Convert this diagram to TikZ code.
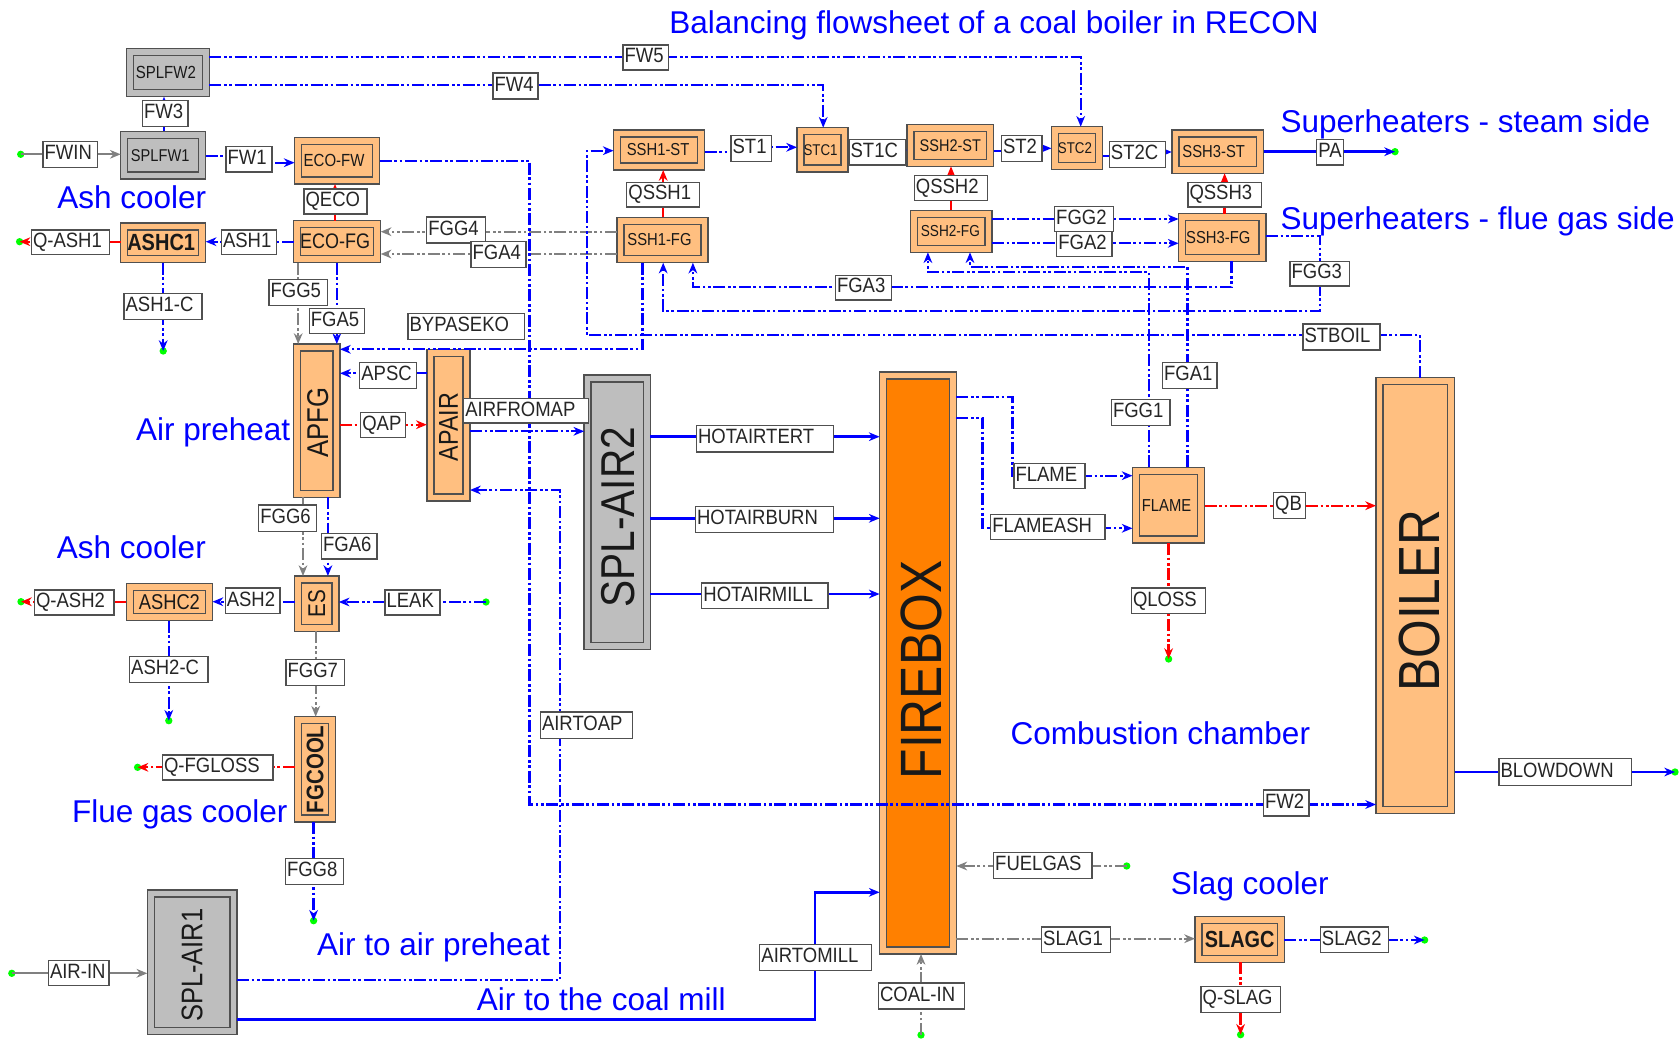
\documentclass[tikz,border=0pt]{standalone}
\usepackage{fontspec}
\usepackage{graphicx}
\setmainfont{Liberation Sans}
\usetikzlibrary{arrows.meta}
\definecolor{peach}{HTML}{FFBF80}
\definecolor{burn}{HTML}{FF8000}
\definecolor{splgray}{HTML}{BEBEBE}
\definecolor{edge}{HTML}{505050}
\definecolor{flowgray}{HTML}{808080}
\newcommand{\fpx}[1]{\pgfmathsetlengthmacro\fz{#1*0.75}\fontsize{\fz}{\fz}\selectfont}
\tikzset{
  >={Stealth[length=8pt,width=6.5pt,inset=2.5pt]},
  outerbox/.style={draw=edge,line width=1.1pt,inner sep=0pt,outer sep=0pt},
  innerbox/.style={draw=edge,line width=1.1pt,inner sep=0pt,outer sep=0pt},
  labelbox/.style={draw=edge,line width=1pt,fill=white,inner sep=0pt,outer sep=0pt,inner xsep=1.2pt,
    font=\fpx{18.5},align=left,text height=9.9pt,text depth=2pt,text=black!85},
  dot/.style={circle,fill=green,draw=none,minimum size=5.5pt,inner sep=0pt,outer sep=0pt},
  title/.style={text=blue,font=\fpx{31.5},anchor=base west,inner sep=0pt},
  flow/.style={line width=1.7pt,->},
  dd/.style={dash pattern=on 9pt off 2pt on 2pt off 2pt on 2pt off 2pt},
  bd/.style={flow,blue,dd},
  bs/.style={flow,blue,line width=1.9pt},
  gd/.style={flow,flowgray,dd},
  gs/.style={flow,flowgray,line width=1.7pt},
  rd/.style={flow,red,dd},
  rs/.style={flow,red},
}
\def\tdx{0}\def\tdy{0}
\newcommand{\unit}[9][0]{%
  \pgfmathsetmacro\cxx{(#3+#5)/2}\pgfmathsetmacro\cyy{(#4+#6)/2}%
  \pgfmathsetmacro\ww{(#5-#3)*0.75}\pgfmathsetmacro\hh{(#6-#4)*0.75}%
  \pgfmathsetmacro\wi{(#5-#3-14)*0.75}\pgfmathsetmacro\hi{(#6-#4-14)*0.75}%
  \pgfmathsetmacro\txx{\cxx+\tdx}\pgfmathsetmacro\tyy{\cyy+\tdy}%
  \node[outerbox,fill=#7,minimum width=\ww pt,minimum height=\hh pt] (#2) at (\cxx,\cyy) {};
  \node[innerbox,fill=#8,minimum width=\wi pt,minimum height=\hi pt] (#2-i) at (\cxx,\cyy) {};
  \node[rotate=#1,inner sep=0pt,text=black!90] (#2-t) at (\txx,\tyy) {\scalebox{1}[1.17]{#9}};
  \def\tdx{0}\def\tdy{0}%
}
\newcommand{\lab}[6]{%
  \pgfmathsetmacro\cxx{(#2+#4)/2}\pgfmathsetmacro\cyy{(#3+#5)/2}%
  \pgfmathsetmacro\hh{(#5-#3)*0.75}%
  \pgfmathsetmacro\wi{(#4-#2)*0.75-2.4}%
  \node[labelbox,text width=\wi pt,minimum height=\hh pt] (#1) at (\cxx,\cyy) {\mbox{\scalebox{1}[1.12]{#6}}};
}
\begin{document}
\begin{tikzpicture}[x=0.75pt,y=-0.75pt]
\useasboundingbox (0,0) rectangle (1680,1038);
% ---------- units
\def\tdx{-2}\unit{SPLFW2}{126.4}{48.7}{209.3}{96.7}{splgray}{splgray}{\fpx{15}SPLFW2}
\def\tdx{-3}\unit{SPLFW1}{120.7}{131.3}{205.7}{179}{splgray}{splgray}{\fpx{14.6}SPLFW1}
\def\tdx{-3}\unit{ECOFW}{294.6}{137.3}{379.6}{184}{peach}{peach}{\fpx{15}ECO-FW}
\def\tdx{-2}\unit{ECOFG}{293.6}{220.7}{380.7}{262.7}{peach}{peach}{\fpx{18}ECO-FG}
\def\tdx{-2}\unit{ASHC1}{120.7}{223}{205.7}{262.7}{peach}{peach}{\fpx{20}\bfseries ASHC1}
\def\tdx{1}\def\tdy{2}\unit[90]{APFG}{293.4}{344}{340}{497.3}{peach}{peach}{\fpx{25.7}APFG}
\def\tdy{2}\unit[90]{APAIR}{426.8}{349.3}{470}{501}{peach}{peach}{\fpx{23.3}APAIR}
\def\tdx{1}\def\tdy{5}\unit[90]{SPLAIR2}{584.2}{375}{650.3}{649.7}{splgray}{splgray}{\fpx{40.6}SPL-AIR2}
\unit[90]{ES}{294.6}{576}{338.8}{631.3}{peach}{peach}{\fpx{20.7}ES}
\unit{ASHC2}{126.3}{583.3}{212.5}{620.7}{peach}{peach}{\fpx{18.3}ASHC2}
\unit[90]{FGCOOL}{294.6}{716.7}{335.4}{822}{peach}{peach}{\fpx{20.5}\bfseries FGCOOL}
\def\tdy{3}\unit[90]{SPLAIR1}{147.3}{890}{237}{1034.3}{splgray}{splgray}{\fpx{25.5}SPL-AIR1}
\def\tdx{3}\def\tdy{7}\unit[90]{FIREBOX}{879.6}{372}{956.4}{954}{peach}{burn}{\fpx{49.8}FIREBOX}
\def\tdx{-2}\unit{FLAME}{1132.5}{467.3}{1204.6}{543}{peach}{peach}{\fpx{14.8}FLAME}
\def\tdx{4}\def\tdy{5}\unit[90]{BOILER}{1376}{377.7}{1454.6}{813.3}{peach}{peach}{\fpx{49.6}BOILER}
\def\tdx{-1}\unit{SSH1ST}{613.6}{130}{704.6}{170}{peach}{peach}{\fpx{14.8}SSH1-ST}
\def\tdx{-3}\unit{SSH1FG}{617}{217.3}{707.9}{262.7}{peach}{peach}{\fpx{14.8}SSH1-FG}
\def\tdx{-2}\unit{STC1}{797}{127.7}{848.2}{172}{peach}{peach}{\fpx{13.3}STC1}
\unit{SSH2ST}{907}{124.3}{993.6}{166.3}{peach}{peach}{\fpx{14.5}SSH2-ST}
\def\tdx{-2}\unit{STC2}{1051.4}{126.7}{1102.5}{169.7}{peach}{peach}{\fpx{13.3}STC2}
\def\tdx{-4}\unit{SSH3ST}{1171.8}{130}{1263.6}{173.3}{peach}{peach}{\fpx{14.8}SSH3-ST}
\def\tdx{-1}\unit{SSH2FG}{910.7}{210.3}{992}{252.3}{peach}{peach}{\fpx{13.6}SSH2-FG}
\def\tdx{-4}\unit{SSH3FG}{1178.6}{213.7}{1266}{261.3}{peach}{peach}{\fpx{14.8}SSH3-FG}
\unit{SLAGC}{1195}{916.7}{1284.4}{962.3}{peach}{peach}{\fpx{19.9}\bfseries SLAGC}
% ---------- free ends
\node[dot] (dFWIN) at (20.7,154.3) {};
\node[dot] (dQASH1) at (19.6,241.7) {};
\node[dot] (dASH1C) at (163.2,351) {};
\node[dot] (dQASH2) at (21,601.7) {};
\node[dot] (dLEAK) at (486,602) {};
\node[dot] (dASH2C) at (168.8,720.7) {};
\node[dot] (dQFG) at (137.6,767.3) {};
\node[dot] (dFGG8) at (313.6,920.7) {};
\node[dot] (dAIR) at (11.8,973.3) {};
\node[dot] (dPA) at (1395,151.7) {};
\node[dot] (dQLOSS) at (1168.6,659) {};
\node[dot] (dBLOW) at (1675,772) {};
\node[dot] (dFUEL) at (1126.7,866) {};
\node[dot] (dSLAG2) at (1424.6,940) {};
\node[dot] (dQSLAG) at (1240.6,1034.7) {};
\node[dot] (dCOAL) at (921,1035) {};
% ---------- connectors
\draw[gs] (dFWIN.center) -- (SPLFW1.west |- 0,154.3);
\draw[bd] (SPLFW1.north -| 164,0) -- (SPLFW2.south -| 164,0);
\draw[bd] (SPLFW1.east |- 0,156) -- (249,156) -- (249,162.7) -- (ECOFW.west |- 0,162.7);
\draw[bd] (SPLFW2.east |- 0,85.3) -- (823.2,85.3) -- (STC1.north -| 823.2,0);
\draw[bd] (SPLFW2.east |- 0,57.3) -- (1080.7,57.3) -- (STC2.north -| 1080.7,0);
\draw[rs] (ECOFG.north -| 335,0) -- (ECOFW.south -| 335,0);
\draw[gd] (SSH1FG.west |- 0,231.7) -- (ECOFG.east |- 0,231.7);
\draw[gd] (SSH1FG.west |- 0,254) -- (ECOFG.east |- 0,254);
\draw[bd] (ECOFG.west |- 0,241.7) -- (ASHC1.east |- 0,241.7);
\draw[rd] (ASHC1.west |- 0,241.7) -- (dQASH1.center);
\draw[bd] (ASHC1.south -| 163.2,0) -- (dASH1C.center);
\draw[gd] (ECOFG.south -| 298.2,0) -- (APFG.north -| 298.2,0);
\draw[bd] (ECOFG.south -| 336.8,0) -- (APFG.north -| 336.8,0);
\draw[bd] (SSH1FG.south -| 642.5,0) -- (642.5,349.3) -- (APFG.east |- 0,349.3);
\draw[bd] (APAIR.west |- 0,373.3) -- (APFG.east |- 0,373.3);
\draw[rd] (APFG.east |- 0,424.7) -- (APAIR.west |- 0,424.7);
\draw[bd] (APAIR.east |- 0,431.3) -- (SPLAIR2.west |- 0,431.3);
\draw[bd] (SPLAIR1.east |- 0,980) -- (560.2,980) -- (560.2,490) -- (APAIR.east |- 0,490);
\draw[gd] (APFG.south -| 303,0) -- (ES.north -| 303,0);
\draw[bd] (APFG.south -| 327.9,0) -- (ES.north -| 327.9,0);
\draw[bd] (dLEAK.center) -- (ES.east |- 0,602);
\draw[bd] (ES.west |- 0,601.7) -- (ASHC2.east |- 0,601.7);
\draw[rd] (ASHC2.west |- 0,601.7) -- (dQASH2.center);
\draw[bd] (ASHC2.south -| 168.8,0) -- (dASH2C.center);
\draw[gd] (ES.south -| 315.7,0) -- (FGCOOL.north -| 315.7,0);
\draw[rd] (FGCOOL.west |- 0,767.3) -- (dQFG.center);
\draw[bd] (FGCOOL.south -| 313.6,0) -- (dFGG8.center);
\draw[gs] (dAIR.center) -- (SPLAIR1.west |- 0,973.3);
\draw[bs] (SPLAIR1.east |- 0,1019.3) -- (815,1019.3) -- (815,892.3) -- (FIREBOX.west |- 0,892.3);
\draw[bs] (SPLAIR2.east |- 0,436.7) -- (FIREBOX.west |- 0,436.7);
\draw[bs] (SPLAIR2.east |- 0,518.3) -- (FIREBOX.west |- 0,518.3);
\draw[bs] (SPLAIR2.east |- 0,594) -- (FIREBOX.west |- 0,594);
\draw[bd] (FIREBOX.east |- 0,396.7) -- (1012.5,396.7) -- (1012.5,475.7) -- (FLAME.west |- 0,475.7);
\draw[bd] (FIREBOX.east |- 0,417.7) -- (982.5,417.7) -- (982.5,528.3) -- (FLAME.west |- 0,528.3);
\draw[rd] (FLAME.east |- 0,505.7) -- (BOILER.west |- 0,505.7);
\draw[rd] (FLAME.south -| 1168.6,0) -- (dQLOSS.center);
\draw[bd] (ECOFW.east |- 0,160.7) -- (529.6,160.7) -- (529.6,804.5) -- (BOILER.west |- 0,804.5);
\draw[bs] (BOILER.east |- 0,772) -- (dBLOW.center);
\draw[gd] (dFUEL.center) -- (FIREBOX.east |- 0,866);
\draw[gd] (FIREBOX.east |- 0,938.7) -- (SLAGC.west |- 0,938.7);
\draw[gd] (dCOAL.center) -- (FIREBOX.south -| 921,0);
\draw[bd] (SLAGC.east |- 0,940) -- (dSLAG2.center);
\draw[rd] (SLAGC.south -| 1240.6,0) -- (dQSLAG.center);
\draw[bd] (BOILER.north -| 1420,0) -- (1420,335) -- (586.8,335) -- (586.8,150.7) -- (SSH1ST.west |- 0,150.7);
\draw[rs] (SSH1FG.north -| 663.2,0) -- (SSH1ST.south -| 663.2,0);
\draw[bd] (SSH1ST.east |- 0,152.3) -- (751,152.3) -- (751,147.3) -- (STC1.west |- 0,147.3);
\draw[bd] (STC1.east |- 0,150) -- (SSH2ST.west |- 0,150);
\draw[bd] (SSH2ST.east |- 0,150.7) -- (1022,150.7) -- (1022,148.3) -- (STC2.west |- 0,148.3);
\draw[bd] (STC2.east |- 0,156) -- (1137,156) -- (1137,152) -- (SSH3ST.west |- 0,152);
\draw[bs] (SSH3ST.east |- 0,151.7) -- (dPA.center);
\draw[rs] (SSH2FG.north -| 951,0) -- (SSH2ST.south -| 951,0);
\draw[rs] (SSH3FG.north -| 1224.6,0) -- (SSH3ST.south -| 1224.6,0);
\draw[bd] (SSH2FG.east |- 0,219) -- (SSH3FG.west |- 0,219);
\draw[bd] (SSH2FG.east |- 0,243.3) -- (SSH3FG.west |- 0,243.3);
\draw[bd] (SSH3FG.east |- 0,236.3) -- (1320,236.3) -- (1320,311) -- (663.2,311) -- (SSH1FG.south -| 663.2,0);
\draw[bd] (SSH3FG.south -| 1231.4,0) -- (1231.4,287.3) -- (692.9,287.3) -- (SSH1FG.south -| 692.9,0);
\draw[bd] (FLAME.north -| 1149.3,0) -- (1149.3,272.3) -- (927.9,272.3) -- (SSH2FG.south -| 927.9,0);
\draw[bd] (FLAME.north -| 1187.5,0) -- (1187.5,266.7) -- (970,266.7) -- (SSH2FG.south -| 970,0);
% ---------- stream labels
\lab{lFW5}{622.9}{45}{668.2}{70}{FW5}
\lab{lFW4}{493}{73}{538}{99}{FW4}
\lab{lFW3}{142.5}{100.7}{188}{126.7}{FW3}
\lab{lFWIN}{43}{141.7}{97.5}{167.3}{FWIN}
\lab{lFW1}{226}{146.3}{272}{172}{FW1}
\lab{lQECO}{304}{189}{367}{214}{QECO}
\lab{lFGG4}{426.8}{217}{485.4}{243}{FGG4}
\lab{lFGA4}{471}{241.3}{526}{267.3}{FGA4}
\lab{lQASH1}{31.4}{230}{109.3}{254.7}{Q-ASH1}
\lab{lASH1}{221.4}{230}{276.8}{254.7}{ASH1}
\lab{lASH1C}{124}{293.7}{202}{319.7}{ASH1-C}
\lab{lFGG5}{269}{279.7}{327.5}{305.7}{FGG5}
\lab{lFGA5}{309.3}{308.7}{364.6}{333.7}{FGA5}
\lab{lBYP}{408}{313.7}{524.6}{339.3}{BYPASEKO}
\lab{lAPSC}{359.8}{362.7}{416.7}{388.3}{APSC}
\lab{lQAP}{360.7}{412.3}{405.3}{437.3}{QAP}
\lab{lAFM}{463.8}{398.7}{588.4}{423}{AIRFROMAP}
\lab{lAIRTOAP}{540.4}{712}{632.6}{738.3}{AIRTOAP}
\lab{lFW2}{1263.4}{790}{1309}{816}{FW2}
\lab{lFGG6}{258.8}{505}{316.5}{531.3}{FGG6}
\lab{lFGA6}{321.5}{533.3}{377}{559}{FGA6}
\lab{lQASH2}{34.5}{590}{114}{615}{Q-ASH2}
\lab{lASH2}{225.2}{588}{279.9}{613.7}{ASH2}
\lab{lLEAK}{385}{590}{440}{615}{LEAK}
\lab{lASH2C}{129.6}{656.7}{208}{682.3}{ASH2-C}
\lab{lFGG7}{286}{659.7}{344.7}{685.7}{FGG7}
\lab{lQFG}{162.5}{755}{273}{780}{Q-FGLOSS}
\lab{lFGG8}{285.4}{858.3}{343.4}{884.7}{FGG8}
\lab{lAIRIN}{48.4}{960.7}{109}{985.7}{AIR-IN}
\lab{lAIRTOMILL}{759.8}{944.7}{871.3}{970.3}{AIRTOMILL}
\lab{lHAT}{696.4}{425.4}{833.6}{452}{HOTAIRTERT}
\lab{lHAB}{695.4}{506.8}{833.6}{532.5}{HOTAIRBURN}
\lab{lHAM}{701.8}{583}{828}{608.6}{HOTAIRMILL}
\lab{lFLAME}{1013.9}{463.7}{1085}{488.3}{FLAME}
\lab{lFLASH}{990.7}{514.7}{1105}{539.3}{FLAMEASH}
\lab{lFGG1}{1111.4}{399.3}{1170}{425.3}{FGG1}
\lab{lFGA1}{1162.5}{362.3}{1217}{388.3}{FGA1}
\lab{lQB}{1273.6}{492.7}{1305.7}{518.3}{QB}
\lab{lBLOW}{1499}{758.6}{1631.5}{785.5}{BLOWDOWN}
\lab{lQLOSS}{1131.4}{588}{1205.7}{613.7}{QLOSS}
\lab{lSTBOIL}{1302.9}{324}{1380}{350}{STBOIL}
\lab{lQSSH1}{626.8}{182.3}{699.6}{207}{QSSH1}
\lab{lST1}{731}{135.7}{771.8}{161.7}{ST1}
\lab{lST1C}{849}{139.3}{905.4}{165}{ST1C}
\lab{lST2}{1001.4}{135.7}{1042}{161.7}{ST2}
\lab{lST2C}{1109.3}{141.7}{1165.4}{167.3}{ST2C}
\lab{lPA}{1316.8}{139.3}{1343.6}{165}{PA}
\lab{lQSSH3}{1187.9}{182.3}{1261.4}{207}{QSSH3}
\lab{lFGG3}{1290}{261.3}{1349.3}{286}{FGG3}
\lab{lFGA3}{835.4}{275.3}{891.4}{300}{FGA3}
\lab{lQSSH2}{914.3}{175.3}{987.5}{200.3}{QSSH2}
\lab{lFGG2}{1054.6}{206.7}{1113.6}{231.3}{FGG2}
\lab{lFGA2}{1056.8}{231.3}{1112}{256.7}{FGA2}
\lab{lFUEL}{993.6}{852.7}{1092}{878.7}{FUELGAS}
\lab{lSLAG1}{1041.6}{927}{1110.5}{952.7}{SLAG1}
\lab{lSLAG2}{1320.3}{927}{1388.7}{952.7}{SLAG2}
\lab{lQSLAG}{1201}{986.7}{1280.8}{1012.3}{Q-SLAG}
\lab{lCOAL}{878.5}{983}{964.2}{1009}{COAL-IN}
% ---------- titles
\node[title] (t1) at (669,33.5) {Balancing flowsheet of a coal boiler in RECON};
\node[title] (t2) at (1280.4,132.5) {Superheaters - steam side};
\node[title] (t3) at (1280.4,229) {Superheaters - flue gas side};
\node[title] (t4) at (57,209) {Ash cooler};
\node[title] (t5) at (56.7,558.5) {Ash cooler};
\node[title] (t6) at (135.8,440) {Air preheat};
\node[title] (t7) at (71.8,822) {Flue gas cooler};
\node[title] (t8) at (316.8,955.5) {Air to air preheat};
\node[title] (t9) at (476.7,1010.5) {Air to the coal mill};
\node[title] (t10) at (1010.4,744) {Combustion chamber};
\node[title] (t11) at (1170.7,894) {Slag cooler};
\end{tikzpicture}
\end{document}
